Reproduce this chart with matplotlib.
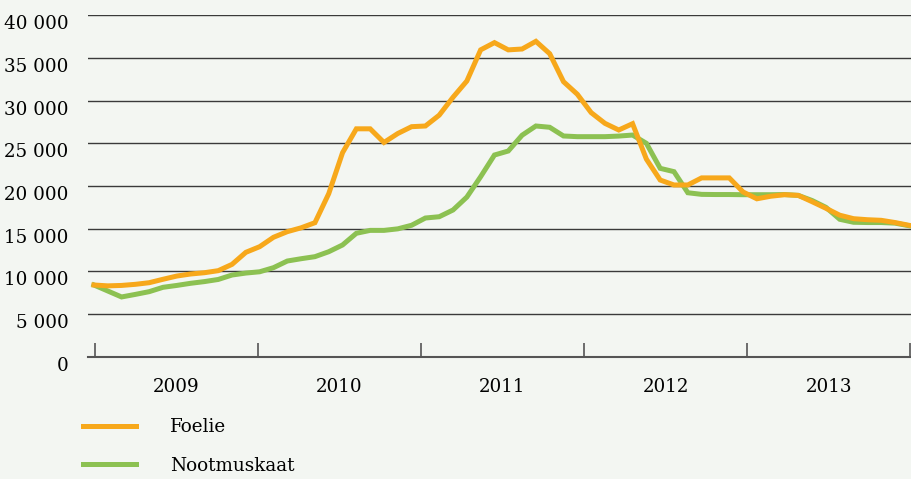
import numpy as np
import matplotlib
matplotlib.use("Agg")
import matplotlib.pyplot as plt
import matplotlib.transforms as mtransforms

# monthly prices, Jan 2009 .. Dec 2013
years = ['2009', '2010', '2011', '2012', '2013']
foelie = [8400, 8300, 8350, 8480, 8670, 9070, 9450, 9690, 9840, 10080,
          10820, 12230, 12890, 13990, 14650, 15100, 15700, 19100, 23900, 26700,
          26700, 25100, 26150, 26950, 27030, 28300, 30400, 32300, 35950, 36800,
          35950, 36050, 36950, 35500, 32220, 30750, 28600, 27340, 26560, 27300,
          23150, 20700, 20120, 20120, 20950, 20950, 20950, 19300, 18500, 18800,
          18980, 18900, 18160, 17390, 16580, 16170, 16050, 15980, 15720, 15400]
nootmuskaat = [8400, 7700, 7000, 7300, 7620, 8130, 8350, 8600, 8800, 9050,
               9570, 9800, 9950, 10430, 11210, 11480, 11720, 12300, 13090, 14460,
               14800, 14800, 14980, 15400, 16250, 16400, 17190, 18700, 21090, 23630,
               24100, 25950, 27030, 26880, 25860, 25780, 25780, 25780, 25850, 25970,
               25000, 22070, 21680, 19210, 19020, 19000, 19000, 18980, 18980, 18980,
               19000, 18900, 18300, 17500, 16100, 15750, 15720, 15720, 15650, 15350]
series_names = ['Foelie', 'Nootmuskaat']

plt.rcParams['font.family'] = ['DejaVu Serif']
plt.rcParams['font.size'] = 13.2

bg = '#f3f6f2'
fig = plt.figure(figsize=(9.11, 4.79), dpi=100, facecolor=bg)
ax = fig.add_axes([88/911, 1-356.7/479, 1-88/911, (356.7-15.3)/479])
ax.set_facecolor(bg)

x = np.arange(len(foelie))
ax.plot(x, foelie, color='#f7a81b', lw=3.6, solid_joinstyle='miter', zorder=4, label=series_names[0])
ax.plot(x, nootmuskaat, color='#8cc152', lw=3.6, solid_joinstyle='miter', zorder=3, label=series_names[1])

ax.set_ylim(0, 40000)
ax.set_xlim(-0.43, 59.16)
ax.set_yticks(np.arange(0, 40001, 5000))
ax.set_yticklabels([f'{v:,}'.replace(',', ' ') for v in range(0, 40001, 5000)])
ax.yaxis.grid(True, color='#3a3a3a', lw=1.0)
ax.set_axisbelow(True)
ax.tick_params(axis='y', length=0, pad=14)
offset = mtransforms.ScaledTranslation(0, -7/100, fig.dpi_scale_trans)
for lab in ax.get_yticklabels():
    lab.set_transform(lab.get_transform() + offset)

bounds = np.linspace(0.07, 59.1, 6)
ax.set_xticks(bounds)
ax.set_xticklabels([])
ax.set_xticks((bounds[:-1] + bounds[1:]) / 2, minor=True)
ax.set_xticklabels(years, minor=True)
ax.tick_params(axis='x', which='major', direction='in', length=10, width=1.2, color='#555555')
ax.tick_params(axis='x', which='minor', length=0, pad=15)

for s in ['top', 'right', 'left']:
    ax.spines[s].set_visible(False)
ax.spines['bottom'].set_color('#555555')
ax.spines['bottom'].set_linewidth(1.5)

fig.legend(loc='upper left', bbox_to_anchor=(83/911, 1-418/479), frameon=False,
           borderpad=0, borderaxespad=0, handlelength=2.9, handletextpad=1.85,
           labelspacing=1.12)

fig.savefig('out.png', dpi=100, facecolor=bg)
